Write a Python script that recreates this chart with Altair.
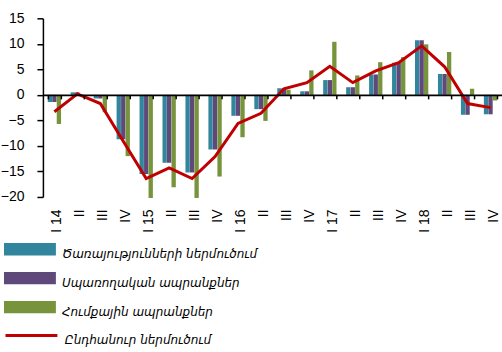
import json

import altair as alt
import pandas as pd

# Quarter labels on the category axis
quarters = ["I 14", "II", "III", "IV", "I 15", "II", "III", "IV",
            "I 16", "II", "III", "IV", "I 17", "II", "III", "IV",
            "I 18", "II", "III", "IV"]

# Contributions by import group, percentage points
services = [-1.4, 0.5, -0.7, -8.7, -15.5, -13.3, -15.2, -10.7, -4.1, -2.8,
            1.3, 0.7, 2.9, 1.5, 4.0, 6.3, 10.7, 4.1, -3.9, -3.8]
consumer = [-1.4, 0.5, -0.7, -8.7, -15.5, -13.3, -15.2, -10.7, -4.1, -2.8,
            1.3, 0.7, 2.9, 1.5, 4.0, 6.3, 10.7, 4.1, -3.9, -3.8]
raw_goods = [-5.7, -0.1, -3.4, -12.0, -20.2, -18.1, -20.2, -16.0, -8.3, -5.1,
             1.0, 4.8, 10.4, 3.8, 6.4, 7.4, 9.9, 8.4, 1.2, -1.1]
# Total imports growth
total = [-3.3, 0.2, -1.7, -9.1, -16.4, -14.3, -16.4, -12.1, -5.6, -3.6,
         1.2, 2.4, 5.6, 2.4, 4.7, 6.3, 9.6, 5.5, -1.7, -2.5]

bar_names = ["Ծառայությունների ներմուծում", "Սպառողական ապրանքներ",
             "Հումքային ապրանքներ"]
line_name = "Ընդհանուր ներմուծում"
bar_colors = ["#31859C", "#5F497A", "#77933C"]
line_color = "#C00000"

rows = []
for i in range(len(quarters)):
    for name, vals in zip(bar_names, [services, consumer, raw_goods]):
        rows.append({"q": i, "series": name, "value": vals[i]})
bars_df = pd.DataFrame(rows)
line_df = pd.DataFrame({"q": list(range(len(quarters))),
                        "name": [line_name] * len(quarters),
                        "value": total})

label_expr = json.dumps(quarters) + "[datum.value]"

W, H = 460, 179
PAD_LEFT, PAD_TOP = 43, 18
PAD_BOTTOM = 352 - PAD_TOP - H
Y_MIN, Y_MAX = -20, 15
zero_offset = -H * (0 - Y_MIN) / (Y_MAX - Y_MIN)

x_scale = alt.Scale(paddingInner=0.42, paddingOuter=0.21)
y_scale = alt.Scale(domain=[Y_MIN, Y_MAX], nice=False)
y_axis = alt.Axis(values=list(range(Y_MIN, Y_MAX + 1, 5)), title=None,
                  grid=False, domainColor="black", domainWidth=1.5,
                  tickColor="black", tickSize=6, tickWidth=1.5,
                  labelOverlap=False, labelFont="Liberation Sans",
                  labelFontSize=14, labelColor="black", labelPadding=13)

legend_common = dict(
    orient="none", title=None, padding=0, rowPadding=0, clipHeight=28.8,
    labelFont="DejaVu Sans", labelFontSize=12, labelFontStyle="italic",
    labelColor="black", labelOffset=6, labelLimit=450, labelBaseline="top",
    direction="vertical",
)

bars = alt.Chart(bars_df).mark_bar().encode(
    x=alt.X("q:O", scale=x_scale, title=None,
            axis=alt.Axis(labelExpr=label_expr, labelAngle=270,
                          labelAlign="right", labelBaseline="middle",
                          labelPadding=12, labelOffset=3, ticks=False,
                          domain=False, labelOverlap=False,
                          labelFont="Liberation Sans", labelFontSize=14,
                          labelColor="black")),
    xOffset=alt.XOffset("series:N", sort=bar_names,
                        scale=alt.Scale(domain=bar_names, paddingInner=0.04)),
    y=alt.Y("value:Q", scale=y_scale, axis=y_axis),
    color=alt.Color("series:N",
                    scale=alt.Scale(domain=bar_names, range=bar_colors),
                    legend=alt.Legend(legendX=4 - PAD_LEFT, legendY=235 - PAD_TOP,
                                      symbolType="M-1,-0.2365H1V0.2365H-1Z",
                                      symbolSize=2704, symbolStrokeWidth=0,
                                      **legend_common)),
)

line = alt.Chart(line_df).mark_line(strokeWidth=3).encode(
    x=alt.X("q:O", scale=x_scale, title=None,
            axis=alt.Axis(orient="bottom", offset=zero_offset, labels=False,
                          domainColor="black", domainWidth=2,
                          tickColor="black", tickSize=4, tickWidth=1.5,
                          tickBand="extent", grid=False, zindex=1)),
    y=alt.Y("value:Q", scale=y_scale, axis=y_axis),
    stroke=alt.Stroke("name:N",
                      scale=alt.Scale(domain=[line_name], range=[line_color]),
                      legend=alt.Legend(legendX=4 - PAD_LEFT,
                                        legendY=321.4 - PAD_TOP,
                                        symbolType="stroke", symbolSize=2704,
                                        symbolStrokeWidth=3,
                                        **legend_common)),
)

chart = (
    alt.layer(bars, line)
    .resolve_axis(x="independent")
    .properties(width=W, height=H,
                autosize=alt.AutoSizeParams(type="none"),
                padding={"left": PAD_LEFT, "top": PAD_TOP, "right": 0,
                         "bottom": PAD_BOTTOM})
    .configure_view(stroke=None)
)

chart.save("out.html", embed_options={"renderer": "svg", "actions": False})
